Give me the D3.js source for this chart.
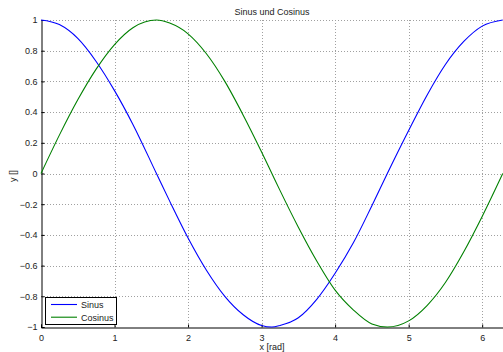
<!DOCTYPE html>
<html>
<head>
<meta charset="utf-8">
<script src="https://cdn.jsdelivr.net/npm/d3@7"></script>
<style>
  body { margin: 0; background: #fff; }
  text { font-family: "Liberation Sans", Arial, sans-serif; font-size: 9px; fill: #222; }
</style>
</head>
<body>
<div id="chart"></div>
<script>
// values
var xWerte = [0, 0.25, 0.5, 0.75, 1, 1.25, 1.57, 1.75, 2, 2.25, 2.5, 2.75, 3, 3.14, 3.25, 3.5, 3.75, 4, 4.25, 4.5, 4.71, 5, 5.25, 5.5, 5.75, 6, 6.28];
// blue line (legend "Sinus")
var sinusWerte = [1.00, 0.97, 0.88, 0.73, 0.54, 0.32, 0.00, -0.18, -0.42, -0.63, -0.80, -0.92, -0.99, -1.00, -0.99, -0.94, -0.82, -0.65, -0.45, -0.21, 0.00, 0.28, 0.51, 0.71, 0.86, 0.96, 1.00];
// green line (legend "Cosinus")
var cosinusWerte = [0.00, 0.25, 0.48, 0.68, 0.84, 0.95, 1.00, 0.98, 0.91, 0.78, 0.60, 0.38, 0.14, 0.00, -0.11, -0.35, -0.57, -0.76, -0.89, -0.98, -1.00, -0.96, -0.86, -0.71, -0.51, -0.28, 0.00];
var xTicks = [0, 1, 2, 3, 4, 5, 6];
var yTicks = [-1, -0.8, -0.6, -0.4, -0.2, 0, 0.2, 0.4, 0.6, 0.8, 1];
var serien = [
  { name: "Sinus", werte: sinusWerte, farbe: "#0000ff" },
  { name: "Cosinus", werte: cosinusWerte, farbe: "#008000" }
];

var width = 503, height = 352;
var plotLinks = 41, plotRechts = 503, plotOben = 20, plotUnten = 327;

var svg = d3.select("#chart").append("svg")
  .attr("width", width)
  .attr("height", height);

var x = d3.scaleLinear().domain([0, 2 * Math.PI]).range([plotLinks, plotRechts]);
var y = d3.scaleLinear().domain([-1, 1]).range([plotUnten, plotOben]);

// dotted grid
svg.append("g").selectAll("line")
  .data(xTicks.filter(function(d){ return d > 0; }))
  .enter().append("line")
  .attr("x1", function(d){ return Math.round(x(d)) + 0.5; })
  .attr("x2", function(d){ return Math.round(x(d)) + 0.5; })
  .attr("y1", plotOben).attr("y2", plotUnten)
  .style("stroke", "#a0a0a0")
  .style("stroke-dasharray", "1,2");

svg.append("g").selectAll("line")
  .data(yTicks.filter(function(d){ return d > -1; }))
  .enter().append("line")
  .attr("x1", plotLinks).attr("x2", plotRechts)
  .attr("y1", function(d){ return Math.round(y(d)) + 0.5; })
  .attr("y2", function(d){ return Math.round(y(d)) + 0.5; })
  .style("stroke", "#a0a0a0")
  .style("stroke-dasharray", "1,2");

// axes
var xAxis = d3.axisBottom(x).tickValues(xTicks).tickSize(-3).tickPadding(7).tickFormat(d3.format("d"));
var gx = svg.append("g")
  .attr("transform", "translate(0," + (Math.round(plotUnten) + 0.5) + ")")
  .call(xAxis);

var yAxis = d3.axisLeft(y).tickValues(yTicks).tickSize(-3).tickPadding(6)
  .tickFormat(function(d){ return d === 0 ? "0" : String(+d.toFixed(1)).replace("-", "\u2212"); });
var gy = svg.append("g")
  .attr("transform", "translate(" + (plotLinks + 0.5) + ",0)")
  .call(yAxis);

[gx, gy].forEach(function(g){
  g.select(".domain").style("stroke", "#000");
  g.selectAll(".tick line").style("stroke", "#000");
  g.selectAll("text").style("font-size", "9px").style("fill", "#222")
    .style("font-family", "'Liberation Sans', Arial, sans-serif");
});
gy.selectAll(".tick text").attr("x", -4);

// curves
var daten = serien.map(function(s){
  return { name: s.name, farbe: s.farbe, punkte: xWerte.map(function(v, i){ return [v, s.werte[i]]; }) };
});

var linie = d3.line()
  .curve(d3.curveMonotoneX)
  .x(function(d){ return x(d[0]); })
  .y(function(d){ return y(d[1]); });

svg.append("g").selectAll("path")
  .data(daten)
  .enter().append("path")
  .attr("d", function(d){ return linie(d.punkte); })
  .style("fill", "none")
  .style("stroke", function(d){ return d.farbe; })
  .style("stroke-width", 1.1);

// labels
svg.append("text").attr("x", 272).attr("y", 14.5).attr("text-anchor", "middle").text("Sinus und Cosinus");
svg.append("text").attr("x", 272).attr("y", 349.5).attr("text-anchor", "middle").text("x [rad]");
svg.append("text")
  .attr("transform", "translate(15.5,176) rotate(-90)")
  .attr("text-anchor", "middle")
  .text("y []");

// legend
var legende = svg.append("g");
legende.append("rect")
  .attr("x", 45.5).attr("y", 297.5)
  .attr("width", 71).attr("height", 27)
  .style("fill", "#fff").style("stroke", "#000");

legende.selectAll("line")
  .data(serien)
  .enter().append("line")
  .attr("x1", 51).attr("x2", 77)
  .attr("y1", function(d, i){ return 304.5 + i * 12.7; })
  .attr("y2", function(d, i){ return 304.5 + i * 12.7; })
  .style("stroke", function(d){ return d.farbe; })
  .style("stroke-width", 1.1);

legende.selectAll("text")
  .data(serien)
  .enter().append("text")
  .attr("x", 81)
  .attr("y", function(d, i){ return 307.8 + i * 12.7; })
  .text(function(d){ return d.name; });
</script>
</body>
</html>
